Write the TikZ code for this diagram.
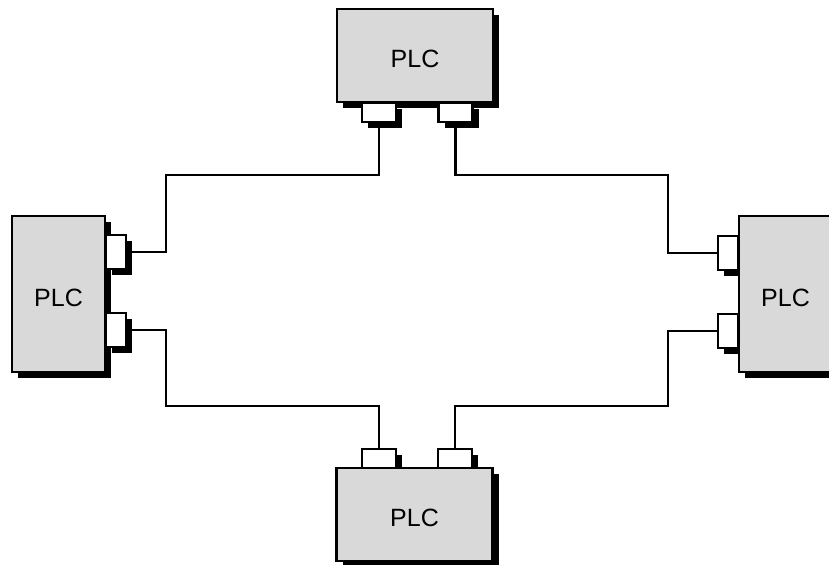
\documentclass[tikz,border=0pt]{standalone}
\usepackage{fontspec}
\setmainfont{Liberation Sans}
\usetikzlibrary{shadows, positioning}

\begin{document}
\begin{tikzpicture}[
    x=0.5pt, y=-0.5pt,
    plc/.style={
        rectangle, draw, line width=1.2pt, inner sep=0pt,
        fill=black!15, font=\fontsize{12.5}{14}\selectfont, text height=12.5pt,
        drop shadow={fill=black, opacity=1, shadow xshift=3pt, shadow yshift=-3pt}
    },
    wide/.style={plc, minimum width=78pt, minimum height=46.5pt},
    tall/.style={plc, minimum width=46.5pt, minimum height=78pt},
    port/.style={
        rectangle, draw, line width=1.2pt, inner sep=0pt, fill=white,
        drop shadow={fill=black, opacity=1, shadow xshift=3pt, shadow yshift=-3pt}
    },
    hport/.style={port, minimum width=17pt, minimum height=9.5pt},
    vport/.style={port, minimum width=10pt, minimum height=17pt},
    wire/.style={line width=1.25pt},
]
\clip (0,0) rectangle (829,565);

% Top PLC
\node[wide] (top) at (415,55.5) {PLC};
\node[hport, anchor=north] (t1) at (379,102) {};
\node[hport, anchor=north] (t2) at (455.5,102) {};

% Left PLC
\node[tall] (left) at (58.5,294) {PLC};
\node[vport, anchor=west] (l1) at (105,252) {};
\node[vport, anchor=west] (l2) at (105,330) {};

% Right PLC (ports first, box on top)
\node[vport, anchor=east] (r1) at (739,253) {};
\node[vport, anchor=east] (r2) at (739,331) {};
\node[tall] (right) at (785.5,294) {PLC};

% Bottom PLC (ports first, box on top)
\node[hport, anchor=south] (b1) at (379,469) {};
\node[hport, anchor=south] (b2) at (455,469) {};
\node[wide] (bottom) at (414.5,514.5) {PLC};

% Ring wiring
\draw[wire] (t1.south) |- (166,175) |- (l1.east);
\draw[wire] (t2.south) |- (668,175) |- (r1.west);
\draw[wire] (l2.east) -| (166,406) -| (b1.north);
\draw[wire] (r2.west) -| (668,406) -| (b2.north);

\end{tikzpicture}
\end{document}
